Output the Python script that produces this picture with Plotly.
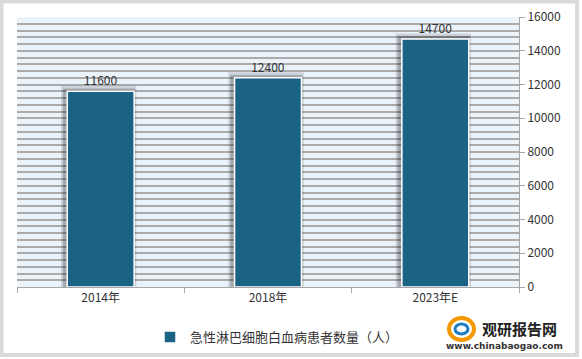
import plotly.graph_objects as go

categories = ["2014年", "2018年", "2023年E"]
values = [11600, 12400, 14700]
series_name = "急性淋巴细胞白血病患者数量（人）"
y_ticks = [0, 2000, 4000, 6000, 8000, 10000, 12000, 14000, 16000]
y_tick_text = [str(v) for v in y_ticks]

W, H = 582, 359
L, R, T, B = 17, 63, 17, 72
pw, ph = W - L - R, H - T - B

def px(x):
    return (x - L) / pw

def py(y):
    return (H - B - y) / ph

bar_color = "#1B6384"
font_family = "Noto Sans CJK SC, DejaVu Sans, sans-serif"

fig = go.Figure()

# soft shadow behind bars (two layers for a blurred look)
fig.add_trace(go.Bar(
    x=categories, y=[v + 320 for v in values],
    width=0.45, offset=-0.237,
    marker=dict(color="rgba(0,0,0,0.13)", line=dict(width=0)),
    showlegend=False, hoverinfo="skip",
))
fig.add_trace(go.Bar(
    x=categories, y=[v + 170 for v in values],
    width=0.43, offset=-0.225,
    marker=dict(color="rgba(0,0,0,0.2)", line=dict(width=0)),
    showlegend=False, hoverinfo="skip",
))
fig.add_trace(go.Bar(
    x=categories, y=values, name=series_name,
    width=0.4, offset=-0.2,
    marker=dict(color=bar_color, line=dict(color="white", width=1.5)),
    text=[str(v) for v in values], textposition="outside",
    textfont=dict(size=12, color="#333333", family=font_family),
    cliponaxis=False,
))

shapes = [
    # outer gray frame
    dict(type="rect", xref="paper", yref="paper",
         x0=px(1.5), x1=px(W - 5), y0=py(H - 4), y1=py(1.5),
         line=dict(color="#DADADA", width=4), fillcolor="rgba(0,0,0,0)", layer="below"),
    # legend shadow
    dict(type="rect", xref="paper", yref="paper",
         x0=px(154), x1=px(354), y0=py(348), y1=py(323),
         line=dict(width=0), fillcolor="rgba(0,0,0,0.07)", layer="below"),
    # logo icon
    dict(type="circle", xref="paper", yref="paper",
         x0=px(449), x1=px(474), y0=py(340), y1=py(318),
         line=dict(color="#F39800", width=4), fillcolor="rgba(0,0,0,0)"),
    dict(type="circle", xref="paper", yref="paper",
         x0=px(455), x1=px(468), y0=py(334), y1=py(324),
         line=dict(color="#1F7DC0", width=3), fillcolor="rgba(0,0,0,0)"),
]

annotations = [
    dict(text="<b>观研报告网</b>", xref="paper", yref="paper",
         x=px(519), y=py(329), xanchor="center", yanchor="middle", showarrow=False,
         font=dict(size=15, color="#222222", family=font_family)),
    dict(text="<b>www.chinabaogao.com</b>", xref="paper", yref="paper",
         x=px(504), y=py(346), xanchor="center", yanchor="middle", showarrow=False,
         font=dict(size=9, color="#333333", family="DejaVu Sans, sans-serif")),
]

fig.update_layout(
    width=W, height=H,
    margin=dict(l=L, r=R, t=T, b=B, autoexpand=False),
    paper_bgcolor="white",
    plot_bgcolor="#EAF2FA",
    barmode="overlay",
    font=dict(family=font_family, size=12, color="#333333"),
    showlegend=True,
    legend=dict(
        orientation="h", x=px(150), y=py(322), xanchor="left", yanchor="top",
        bgcolor="white", font=dict(size=13, color="#333333", family=font_family),
        itemwidth=30,
    ),
    xaxis=dict(
        type="category", showgrid=False, showline=True, linecolor="#A6A6A6", linewidth=1,
        ticks="outside", tickson="boundaries", ticklen=5, tickcolor="#A6A6A6",
        tickfont=dict(size=12, color="#333333", family=font_family),
        automargin=False,
    ),
    yaxis=dict(
        side="right", range=[0, 16000], tickvals=y_ticks, ticktext=y_tick_text,
        showline=True, linecolor="#A6A6A6", linewidth=1,
        ticks="outside", ticklen=5, tickcolor="#A6A6A6",
        showgrid=True, gridcolor="#ABABAB", gridwidth=1.5,
        minor=dict(dtick=400, showgrid=True, gridcolor="#ABABAB", gridwidth=1.5),
        tickfont=dict(size=12, color="#333333", family=font_family),
        zeroline=False, automargin=False,
    ),
    shapes=shapes,
    annotations=annotations,
)

fig.write_html("out.html", config={"displayModeBar": False},
               post_script="document.body.style.margin='0';")
